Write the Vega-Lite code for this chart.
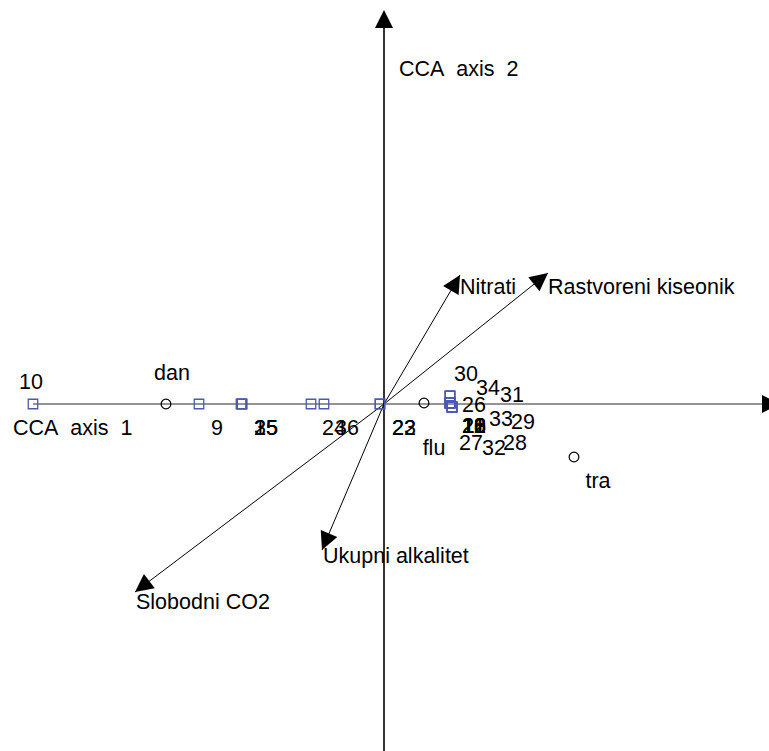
{
  "$schema": "https://vega.github.io/schema/vega-lite/v6.json",
  "width": 769,
  "height": 751,
  "autosize": {"type": "none"},
  "padding": 0,
  "background": "white",
  "config": {
    "view": {"stroke": null},
    "text": {"font": "Liberation Sans", "fontSize": 21.5, "color": "#000000", "baseline": "middle"}
  },
  "datasets": {
    "axes": [
      {"name": "CCA axis 1", "x0": -3.51, "y0": 0, "x1": 3.8, "y1": 0},
      {"name": "CCA axis 2", "x0": 0, "y0": -3.6, "x1": 0, "y1": 3.8}
    ],
    "axisHeads": [
      {"name": "CCA axis 1", "x": 3.96, "y": 0},
      {"name": "CCA axis 2", "x": 0, "y": 3.94}
    ],
    "axisLabels": [
      {"label": "CCA\u00a0\u00a0axis\u00a0\u00a01", "lx": -3.71, "ly": -0.25},
      {"label": "CCA\u00a0\u00a0axis\u00a0\u00a02", "lx": 0.15, "ly": 3.34}
    ],
    "env": [
      {"name": "Nitrati", "x0": 0, "y0": 0, "x": 0.76, "y": 1.29, "lx": 0.76, "ly": 1.16},
      {"name": "Rastvoreni kiseonik", "x0": 0, "y0": 0, "x": 1.64, "y": 1.31, "lx": 1.64, "ly": 1.16},
      {"name": "Slobodni CO2", "x0": 0, "y0": 0, "x": -2.49, "y": -1.88, "lx": -2.48, "ly": -1.99},
      {"name": "Ukupni alkalitet", "x0": 0, "y0": 0, "x": -0.62, "y": -1.46, "lx": -0.61, "ly": -1.53}
    ],
    "species": [
      {"name": "dan", "x": -2.18, "y": 0.0, "lx": -2.12, "ly": 0.3},
      {"name": "flu", "x": 0.4, "y": 0.01, "lx": 0.5, "ly": -0.45},
      {"name": "tra", "x": 1.9, "y": -0.53, "lx": 2.14, "ly": -0.78}
    ],
    "sites": [
      {"site": "10", "x": -3.51, "y": 0, "lx": -3.53, "ly": 0.21},
      {"site": "9", "x": -1.85, "y": 0, "lx": -1.67, "ly": -0.25},
      {"site": "15", "x": -1.43, "y": 0, "lx": -1.18, "ly": -0.25},
      {"site": "25", "x": -1.42, "y": 0, "lx": -1.18, "ly": -0.25},
      {"site": "35", "x": -1.42, "y": 0, "lx": -1.18, "ly": -0.25},
      {"site": "24", "x": -0.73, "y": 0, "lx": -0.5, "ly": -0.25},
      {"site": "36", "x": -0.6, "y": 0, "lx": -0.37, "ly": -0.25},
      {"site": "22", "x": -0.04, "y": 0, "lx": 0.2, "ly": -0.25},
      {"site": "23", "x": -0.04, "y": 0, "lx": 0.2, "ly": -0.25},
      {"site": "30", "x": 0.66, "y": 0.08, "lx": 0.82, "ly": 0.29},
      {"site": "34", "x": 0.66, "y": 0.08, "lx": 1.04, "ly": 0.15},
      {"site": "31", "x": 0.66, "y": 0.08, "lx": 1.28, "ly": 0.08},
      {"site": "26", "x": 0.66, "y": 0.01, "lx": 0.9, "ly": -0.02},
      {"site": "33", "x": 0.66, "y": 0.01, "lx": 1.17, "ly": -0.16},
      {"site": "29", "x": 0.66, "y": 0.01, "lx": 1.39, "ly": -0.19},
      {"site": "11", "x": 0.66, "y": 0.01, "lx": 0.9, "ly": -0.23},
      {"site": "12", "x": 0.66, "y": 0.01, "lx": 0.9, "ly": -0.23},
      {"site": "13", "x": 0.66, "y": 0.01, "lx": 0.9, "ly": -0.23},
      {"site": "16", "x": 0.66, "y": 0.01, "lx": 0.9, "ly": -0.23},
      {"site": "18", "x": 0.68, "y": -0.03, "lx": 0.9, "ly": -0.23},
      {"site": "20", "x": 0.68, "y": -0.03, "lx": 0.9, "ly": -0.23},
      {"site": "21", "x": 0.68, "y": -0.03, "lx": 0.9, "ly": -0.23},
      {"site": "27", "x": 0.68, "y": -0.03, "lx": 0.87, "ly": -0.4},
      {"site": "32", "x": 0.68, "y": -0.03, "lx": 1.1, "ly": -0.45},
      {"site": "28", "x": 0.68, "y": -0.03, "lx": 1.31, "ly": -0.4}
    ]
  },
  "layer": [
    {
      "data": {"name": "axes"},
      "mark": {"type": "rule", "strokeWidth": 1.6},
      "encoding": {
        "x": {"field": "x0", "type": "quantitative", "scale": {"domain": [-3.84, 3.85], "nice": false, "zero": false}, "axis": null},
        "y": {"field": "y0", "type": "quantitative", "scale": {"domain": [-3.47, 4.04], "nice": false, "zero": false}, "axis": null},
        "x2": {"field": "x1"},
        "y2": {"field": "y1"},
        "color": {"field": "name", "type": "nominal", "scale": {"domain": ["CCA axis 1", "CCA axis 2"], "range": ["#707070", "#000000"]}, "legend": null}
      }
    },
    {
      "data": {"name": "env"},
      "mark": {"type": "rule", "strokeWidth": 1, "color": "#000000"},
      "encoding": {
        "x": {"field": "x0", "type": "quantitative"},
        "y": {"field": "y0", "type": "quantitative"},
        "x2": {"field": "x"},
        "y2": {"field": "y"}
      }
    },
    {
      "data": {"name": "env"},
      "transform": [{"calculate": "atan2(datum.x, datum.y) * 180 / PI", "as": "ang"}],
      "mark": {"type": "point", "shape": "M0,0L-0.5,1L0.5,1Z", "filled": true, "color": "#000000", "opacity": 1, "size": 1296},
      "encoding": {
        "x": {"field": "x", "type": "quantitative"},
        "y": {"field": "y", "type": "quantitative"},
        "angle": {"field": "ang", "type": "quantitative", "scale": null}
      }
    },
    {
      "data": {"name": "axisHeads"},
      "transform": [{"calculate": "atan2(datum.x, datum.y) * 180 / PI", "as": "ang"}],
      "mark": {"type": "point", "shape": "M0,0L-0.5,1L0.5,1Z", "filled": true, "color": "#000000", "opacity": 1, "size": 1296},
      "encoding": {
        "x": {"field": "x", "type": "quantitative"},
        "y": {"field": "y", "type": "quantitative"},
        "angle": {"field": "ang", "type": "quantitative", "scale": null}
      }
    },
    {
      "data": {"name": "sites"},
      "mark": {"type": "point", "shape": "square", "filled": false, "color": "#4a5aae", "strokeWidth": 1.3, "size": 90, "opacity": 1},
      "encoding": {
        "x": {"field": "x", "type": "quantitative"},
        "y": {"field": "y", "type": "quantitative"}
      }
    },
    {
      "data": {"name": "species"},
      "mark": {"type": "point", "shape": "circle", "filled": false, "color": "#000000", "strokeWidth": 1.2, "size": 95, "opacity": 1},
      "encoding": {
        "x": {"field": "x", "type": "quantitative"},
        "y": {"field": "y", "type": "quantitative"}
      }
    },
    {
      "data": {"name": "sites"},
      "mark": {"type": "text", "align": "center"},
      "encoding": {
        "x": {"field": "lx", "type": "quantitative"},
        "y": {"field": "ly", "type": "quantitative"},
        "text": {"field": "site"}
      }
    },
    {
      "data": {"name": "species"},
      "mark": {"type": "text", "align": "center"},
      "encoding": {
        "x": {"field": "lx", "type": "quantitative"},
        "y": {"field": "ly", "type": "quantitative"},
        "text": {"field": "name"}
      }
    },
    {
      "data": {"name": "env"},
      "mark": {"type": "text", "align": "left"},
      "encoding": {
        "x": {"field": "lx", "type": "quantitative"},
        "y": {"field": "ly", "type": "quantitative"},
        "text": {"field": "name"}
      }
    },
    {
      "data": {"name": "axisLabels"},
      "mark": {"type": "text", "align": "left"},
      "encoding": {
        "x": {"field": "lx", "type": "quantitative"},
        "y": {"field": "ly", "type": "quantitative"},
        "text": {"field": "label"}
      }
    }
  ]
}
